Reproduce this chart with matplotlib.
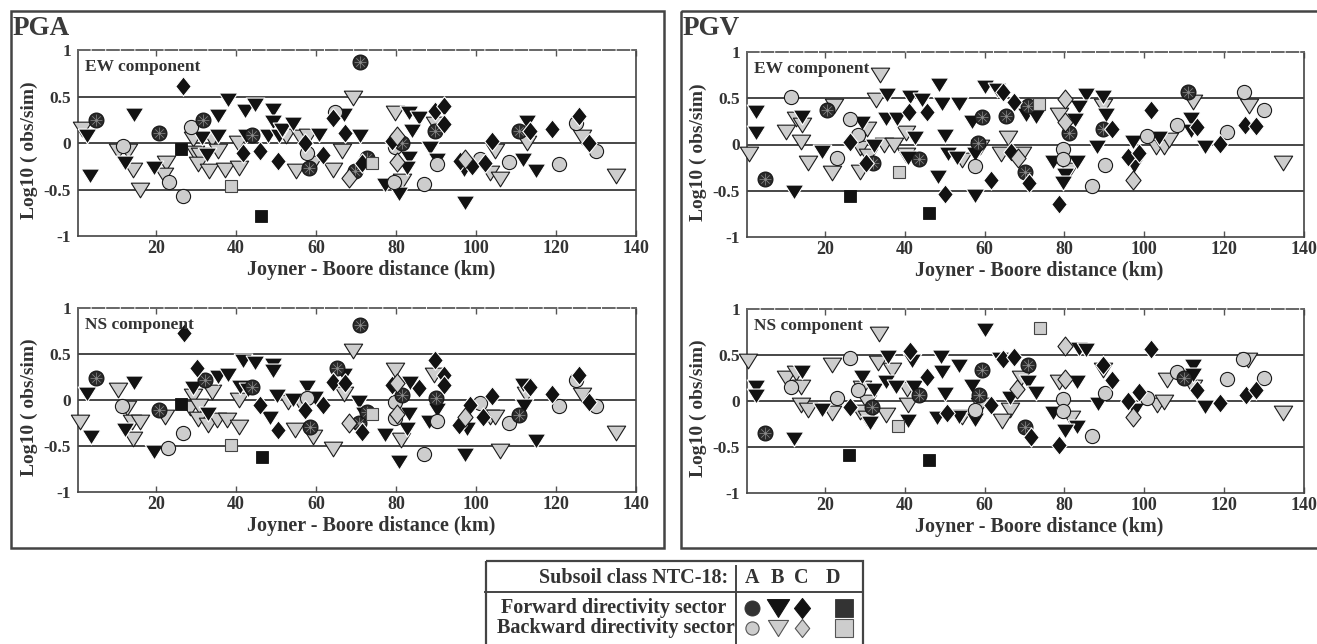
import matplotlib
matplotlib.use("Agg")
import matplotlib.pyplot as plt
from matplotlib.path import Path
from matplotlib.patches import Rectangle

plt.rcParams['font.family'] = ['Liberation Serif', 'DejaVu Serif']
plt.rcParams['font.weight'] = 'bold'

# ---------------------------------------------------------------- data
# Each list holds (Joyner-Boore distance [km], log10(obs/sim)) pairs.
# A = circle, B = triangle, C = diamond, D = square; FWD / BWD directivity.

PGA_EW_A_FWD = [(5.0, 0.25), (20.7, 0.11), (31.8, 0.25), (43.9, 0.09), (58.3, -0.27),
                (70.9, 0.875), (69.8, -0.30), (72.75, -0.16), (81.5, 0.0), (89.8, 0.125),
                (110.7, 0.125)]
PGA_EW_A_BWD = [(11.7, -0.03), (23.3, -0.42), (26.7, -0.57), (28.75, 0.17), (57.7, -0.11),
                (64.8, 0.33), (79.7, -0.04), (79.4, -0.42), (86.9, -0.44), (90.25, -0.225),
                (101, -0.17), (108.2, -0.20), (120.7, -0.23), (125, 0.21), (130, -0.09)]
PGA_EW_B_FWD = [(2.8, 0.08), (3.5, -0.35), (14.6, 0.30), (12.25, -0.21), (19.6, -0.27),
                (31.5, 0.05), (32.8, -0.13), (35.6, 0.29), (35.6, 0.08), (38.1, 0.46),
                (42.25, 0.34), (42.5, 0.07), (44.75, 0.41), (49.3, 0.36), (49.2, 0.23),
                (48.1, 0.08), (50.8, 0.08), (51.4, 0.14), (54.2, 0.20), (60.8, 0.09),
                (66.9, 0.30), (70.9, 0.07), (83.2, 0.32), (85.7, 0.27), (84, 0.13),
                (83.2, -0.16), (82.75, -0.27), (77.3, -0.45), (80.7, -0.55), (88.4, -0.05),
                (90.25, -0.18), (96.9, -0.29), (97.2, -0.65), (111.75, -0.18), (115.1, -0.30),
                (112.75, 0.23)]
PGA_EW_B_BWD = [(1.4, 0.15), (10.6, -0.09), (13.1, -0.09), (14.3, -0.29), (16, -0.50),
                (22.5, -0.21), (22.1, -0.34), (29.2, 0.04), (29.75, -0.11), (31, -0.13),
                (30.6, -0.23), (33.3, -0.30), (33.9, 0.04), (35.4, -0.09), (37.25, -0.29),
                (40.8, -0.27), (40.6, 0.0), (52.4, 0.07), (56, 0.06), (58, 0.07),
                (55, -0.30), (59.3, -0.21), (64.3, -0.29), (69.25, 0.48), (66.5, -0.09),
                (79.8, 0.32), (81.5, -0.41), (89.7, 0.20), (103.4, -0.32), (106, -0.39),
                (104.8, -0.09), (112.75, 0.0), (126.5, 0.06), (135, -0.36)]
PGA_EW_C_FWD = [(26.8, 0.61), (41.8, -0.11), (46, -0.09), (50.6, -0.19), (57.25, 0.0),
                (61.7, -0.13), (64.3, 0.27), (67.3, 0.11), (71.5, -0.21), (79, 0.02),
                (89.8, 0.34), (91.9, 0.40), (91.9, 0.20), (96, -0.19), (99, -0.25),
                (102.3, -0.21), (104, 0.02), (113.6, 0.13), (119, 0.15), (125.7, 0.29),
                (128.2, 0.0)]
PGA_EW_C_BWD = [(68.2, -0.375), (80.25, 0.07), (80.25, -0.20), (97.3, -0.17)]
PGA_EW_D_FWD = [(26.25, -0.06), (46.25, -0.79)]
PGA_EW_D_BWD = [(38.7, -0.46), (74, -0.21)]

PGA_NS_A_FWD = [(5, 0.24), (20.8, -0.11), (32.25, 0.22), (43.9, 0.145), (58.5, -0.29),
                (65.2, 0.35), (70.9, 0.81), (70.7, -0.25), (72.75, -0.13), (81.5, 0.05),
                (90.1, 0.02), (110.7, -0.16)]
PGA_NS_A_BWD = [(11.4, -0.07), (23.1, -0.52), (26.7, -0.36), (57.7, 0.02), (79.7, -0.02),
                (79.7, -0.20), (86.9, -0.59), (90.25, -0.23), (101, -0.03), (108.2, -0.25),
                (120.7, -0.07), (125, 0.22), (130, -0.07)]
PGA_NS_B_FWD = [(2.8, 0.07), (3.7, -0.40), (14.6, 0.18), (12.25, -0.33), (19.5, -0.56),
                (29.2, 0.13), (33.1, -0.15), (35.6, 0.25), (38.1, 0.27), (41, 0.145),
                (41.8, 0.42), (44.75, 0.40), (43, 0.11), (48.5, -0.20), (49.3, 0.38),
                (49.2, 0.31), (50.2, 0.04), (54.2, 0.0), (57.7, 0.145), (59.75, 0.02),
                (66.9, 0.27), (70.7, -0.02), (71.9, -0.15), (83.6, 0.19), (83.2, -0.15),
                (82.75, -0.31), (77.3, -0.38), (80.7, -0.67), (88.2, -0.24), (90.25, -0.11),
                (97.75, -0.31), (97.2, -0.60), (111.9, -0.07), (111.75, 0.16), (115.1, -0.45)]
PGA_NS_B_BWD = [(1.0, -0.24), (10.6, 0.11), (12.8, -0.09), (13.9, -0.24), (14.2, -0.42),
                (16, -0.24), (22.25, -0.18), (29.3, 0.04), (28.5, -0.09), (30.8, -0.07),
                (30.6, -0.21), (33.1, -0.27), (33.9, 0.09), (35.3, -0.22), (37.7, -0.22),
                (40.8, -0.29), (40.8, 0.0), (53, -0.02), (56, -0.02), (54.75, -0.33),
                (59.3, -0.40), (64.3, -0.53), (69.25, 0.53), (66.9, 0.07), (79.8, 0.33),
                (81.3, -0.44), (89.4, 0.27), (103.4, -0.18), (104.8, -0.18), (105.9, -0.55),
                (112.6, 0.07), (126.5, 0.05), (135, -0.36)]
PGA_NS_C_FWD = [(27.1, 0.73), (30.3, 0.35), (46, -0.05), (50.6, -0.33), (57.25, -0.11),
                (61.7, -0.05), (64.3, 0.20), (67.3, 0.18), (71.5, -0.35), (79, 0.16),
                (85.7, 0.13), (89.7, 0.44), (91.9, 0.27), (91.9, 0.16), (95.7, -0.27),
                (98.5, -0.05), (101.75, -0.18), (104, 0.04), (113.6, 0.145), (119, 0.07),
                (125.7, 0.27), (128.2, -0.02)]
PGA_NS_C_BWD = [(68.2, -0.25), (80.25, 0.18), (80.25, -0.15), (97.3, -0.18)]
PGA_NS_D_FWD = [(26.25, -0.04), (46.4, -0.62)]
PGA_NS_D_BWD = [(38.7, -0.49), (74, -0.15)]

PGV_EW_A_FWD = [(4.9, -0.37), (20.6, 0.37), (32, -0.20), (43.5, -0.16), (59.3, 0.30),
                (58.3, 0.02), (65.25, 0.31), (70.8, 0.42), (70, -0.30), (81.1, 0.12),
                (89.6, 0.17), (111, 0.57)]
PGV_EW_A_BWD = [(11.4, 0.51), (23.1, -0.15), (26.4, 0.28), (28.3, 0.10), (57.5, -0.23),
                (79.75, -0.05), (79.75, -0.16), (90.25, -0.22), (86.8, -0.45), (100.8, 0.09),
                (108.1, 0.21), (120.6, 0.13), (125, 0.57), (130, 0.37)]
PGV_EW_B_FWD = [(2.8, 0.35), (2.8, 0.12), (12.25, -0.51), (14.3, 0.30), (19.3, -0.08),
                (29.3, 0.23), (32.25, -0.02), (35.6, 0.54), (35.2, 0.28), (38.1, 0.28),
                (42.5, 0.065), (40.8, -0.15), (41.4, 0.51), (44.3, 0.48), (48.5, 0.64),
                (49.3, 0.44), (48.3, -0.35), (50, 0.09), (50.8, -0.10), (53.5, 0.44),
                (53.1, -0.15), (57.7, -0.56), (56.8, 0.24), (57.5, -0.10), (60, 0.62),
                (63, 0.59), (70.4, 0.32), (72.9, 0.30), (85.4, 0.53), (83.75, 0.41),
                (82.75, 0.26), (77.1, -0.19), (83.1, -0.19), (80.25, -0.33), (79.75, -0.42),
                (89.6, 0.51), (90.4, 0.32), (88.1, -0.025), (97.1, 0.03), (97.5, -0.23),
                (103.6, 0.065), (111.7, 0.28), (111.7, 0.15), (115.25, -0.025)]
PGV_EW_B_BWD = [(1, -0.10), (10.3, 0.14), (12.7, 0.28), (14.2, 0.21), (13.9, 0.03),
                (15.8, -0.20), (22.25, 0.42), (21.8, -0.31), (30.6, 0.17), (28.9, -0.04),
                (30.75, -0.12), (28.9, -0.30), (32.7, 0.48), (33.75, 0.75), (34.75, 0.0),
                (37.25, 0.0), (40.3, 0.12), (40.3, -0.115), (54.3, -0.17), (58.9, -0.025),
                (65.8, 0.065), (64.2, -0.10), (69.4, -0.10), (78.75, 0.32), (81.25, -0.28),
                (89.6, 0.42), (102.9, -0.025), (105, -0.025), (106.25, 0.05), (112.25, 0.46),
                (126.25, 0.42), (134.8, -0.20)]
PGV_EW_C_FWD = [(26.4, 0.03), (30.2, -0.20), (41, 0.35), (45.6, 0.35), (50.2, -0.54),
                (61.7, -0.38), (64.6, 0.57), (67.25, 0.46), (66.7, -0.08), (71.25, -0.42),
                (78.75, -0.64), (91.9, 0.17), (95.8, -0.13), (98.75, -0.09), (101.7, 0.37),
                (113.3, 0.19), (118.9, 0.01), (125.25, 0.21), (127.9, 0.20)]
PGV_EW_C_BWD = [(68.3, -0.15), (80.25, 0.49), (80.25, 0.245), (97.1, -0.385)]
PGV_EW_D_FWD = [(26.25, -0.56), (46, -0.745)]
PGV_EW_D_BWD = [(38.5, -0.30), (73.75, 0.435)]

PGV_NS_A_FWD = [(4.9, -0.35), (31.8, -0.06), (43.7, 0.065), (59.3, 0.335), (58.5, 0.065),
                (70.8, 0.39), (70, -0.28), (110, 0.245)]
PGV_NS_A_BWD = [(11.4, 0.155), (23.1, 0.03), (26.4, 0.47), (28.3, 0.12), (57.5, -0.10),
                (79.75, 0.02), (79.75, -0.11), (86.8, -0.38), (90.25, 0.09), (100.8, 0.03),
                (108.1, 0.31), (120.6, 0.235), (124.75, 0.46), (130, 0.245)]
PGV_NS_B_FWD = [(2.8, 0.155), (2.7, 0.05), (12.25, -0.415), (14.3, 0.32), (19.3, -0.10),
                (29.2, 0.26), (32.25, 0.12), (31.4, -0.24), (35.8, 0.48), (35.2, 0.21),
                (37.7, 0.155), (40.8, -0.22), (42.25, 0.155), (41.8, 0.43), (48.1, -0.19),
                (49, 0.48), (49.3, 0.32), (50.2, 0.08), (53.5, 0.38), (53.5, -0.17),
                (56.8, 0.16), (57.5, -0.205), (60.2, 0.77), (63.9, 0.46), (70.8, 0.21),
                (72.9, 0.09), (66.25, 0.03), (83.6, 0.57), (85.4, 0.55), (83.1, 0.21),
                (77.1, -0.13), (83.1, -0.28), (80.25, -0.33), (88.3, -0.03), (97.75, -0.10),
                (112.25, 0.38), (112.25, 0.28), (115.25, -0.06)]
PGV_NS_B_BWD = [(0.8, 0.43), (10.2, 0.245), (12.7, 0.30), (13.9, 0.155), (13.9, -0.04),
                (15.8, -0.10), (21.8, -0.13), (21.8, 0.39), (29.2, 0.14), (30.6, -0.01),
                (28.9, -0.115), (30.6, -0.19), (33.3, 0.415), (33.5, 0.73), (36.8, 0.335),
                (40.6, 0.135), (40.8, -0.045), (35.2, -0.15), (54.3, -0.17), (58.9, -0.045),
                (69.2, 0.245), (66.25, -0.10), (64.4, -0.22), (78.75, 0.21), (81.7, -0.19),
                (89.6, 0.335), (103.3, -0.045), (105, -0.01), (105.8, 0.23), (112.25, 0.155),
                (126.1, 0.45), (134.8, -0.125)]
PGV_NS_C_FWD = [(26.4, -0.06), (41.4, 0.545), (45.6, 0.26), (50.6, -0.13), (61.7, -0.045),
                (64.6, 0.46), (67.25, 0.48), (71.7, -0.39), (78.75, -0.475), (89.6, 0.39),
                (91.9, 0.23), (95.8, 0.0), (98.75, 0.10), (101.8, 0.57), (113.3, 0.12),
                (118.9, -0.025), (125.4, 0.065), (127.9, 0.125)]
PGV_NS_C_BWD = [(68.1, 0.135), (80.25, 0.60), (80.25, 0.235), (97.1, -0.17)]
PGV_NS_D_FWD = [(26, -0.585), (46, -0.64)]
PGV_NS_D_BWD = [(38.3, -0.27), (74, 0.79)]

X_TICKS = [20, 40, 60, 80, 100, 120, 140]
Y_TICKS = [-1, -0.5, 0, 0.5, 1]
Y_TICK_LABELS = ['-1', '-0.5', '0', '0.5', '1']
SOIL_CLASSES = ['A', 'B', 'C', 'D']

# ---------------------------------------------------------------- styles
TXT = '#333333'
DARK = '#121212'
DARK_A = '#2a2a2a'
LIGHT = '#cdcdcd'


def closed(verts):
    verts = list(verts) + [verts[0]]
    codes = [Path.MOVETO] + [Path.LINETO] * (len(verts) - 2) + [Path.CLOSEPOLY]
    return Path(verts, codes)


# slightly squat down-pointing triangle and slightly tall diamond
tri_down = closed([(-1, 0.8), (1, 0.8), (0, -0.8)])
diamond = closed([(0, 1), (0.8, 0), (0, -1), (-0.8, 0)])

spoke_verts, spoke_codes = [], []
for dx, dy in [(1, 0), (0.71, 0.71), (0, 1), (-0.71, 0.71)]:
    spoke_verts += [(-dx, -dy), (dx, dy)]
    spoke_codes += [Path.MOVETO, Path.LINETO]
spokes = Path(spoke_verts, spoke_codes)

STYLE = {
    'A_FWD': dict(marker='o', ms=10.8, mfc=DARK_A, mec='#111111', mew=0.7),
    'A_BWD': dict(marker='o', ms=10.2, mfc=LIGHT, mec='#1a1a1a', mew=0.8),
    'B_FWD': dict(marker=tri_down, ms=13.4, mfc=DARK, mec='white', mew=0.8),
    'B_BWD': dict(marker=tri_down, ms=13.2, mfc=LIGHT, mec='#1a1a1a', mew=0.8),
    'C_FWD': dict(marker=diamond, ms=14.0, mfc=DARK, mec='white', mew=0.8),
    'C_BWD': dict(marker=diamond, ms=13.6, mfc=LIGHT, mec='#1a1a1a', mew=0.8),
    'D_FWD': dict(marker='s', ms=8.4, mfc=DARK, mec=DARK, mew=0.6),
    'D_BWD': dict(marker='s', ms=8.4, mfc=LIGHT, mec='#444444', mew=0.8),
}

W, H = 1317, 644
fig = plt.figure(figsize=(W / 100, H / 100), dpi=100)

# full-figure pixel canvas for frames, titles and the symbol table
bg = fig.add_axes([0, 0, 1, 1])
bg.set_xlim(0, W)
bg.set_ylim(H, 0)
bg.axis('off')


def frac(left, top, right, bottom):
    return [left / W, 1 - bottom / H, (right - left) / W, (bottom - top) / H]


def draw_points(ax, pts, key):
    xs = [p[0] for p in pts]
    ys = [p[1] for p in pts]
    st = STYLE[key]
    ax.plot(xs, ys, linestyle='none', clip_on=False, zorder=3, **st)
    if key == 'A_FWD':
        ax.plot(xs, ys, linestyle='none', marker=spokes, ms=8.5, mfc='none',
                mec='#8c8c8c', mew=0.5, clip_on=False, zorder=3)


def panel(rect, series, comp):
    ax = fig.add_axes(frac(*rect))
    ax.set_xlim(0.5, 140)
    ax.set_ylim(-1, 1)
    for yv in (-0.5, 0, 0.5):
        ax.axhline(yv, color='#151515', lw=1.1, zorder=1)
    for pts, key in series:
        draw_points(ax, pts, key)
    ax.set_xticks(X_TICKS)
    ax.set_xticklabels([str(t) for t in X_TICKS])
    ax.set_yticks(Y_TICKS)
    ax.set_yticklabels(Y_TICK_LABELS)
    ax.tick_params(axis='x', direction='in', top=True, length=4, width=1.0,
                   color='#555555', labelsize=13, labelcolor=TXT, pad=3)
    ax.tick_params(axis='y', direction='in', length=0, labelsize=12.5,
                   labelcolor=TXT, pad=5)
    for lab in ax.get_xticklabels() + ax.get_yticklabels():
        lab.set_fontweight('bold')
    for side in ('left', 'right', 'bottom'):
        ax.spines[side].set_color('#444444')
        ax.spines[side].set_linewidth(1.2)
    ax.spines['top'].set_color('#666666')
    ax.spines['top'].set_linewidth(1.4)
    ax.spines['top'].set_linestyle((0, (6, 1.5)))
    ax.text(0.0125, 0.885, comp, transform=ax.transAxes, fontsize=12.5,
            fontweight='bold', color=TXT, va='baseline', ha='left')
    ax.text(-0.088, 0.46, 'Log10 ( obs/sim)', transform=ax.transAxes, rotation=90,
            fontsize=14, fontweight='bold', color=TXT, ha='center', va='center')
    ax.text(0.525, -0.185, 'Joyner - Boore distance (km)', transform=ax.transAxes,
            fontsize=14.5, fontweight='bold', color=TXT, ha='center', va='center')
    return ax


def series_of(a_f, a_b, b_f, b_b, c_f, c_b, d_f, d_b):
    return [(b_b, 'B_BWD'), (b_f, 'B_FWD'), (a_b, 'A_BWD'), (a_f, 'A_FWD'),
            (c_f, 'C_FWD'), (c_b, 'C_BWD'), (d_f, 'D_FWD'), (d_b, 'D_BWD')]


panel((78, 50, 636, 236),
      series_of(PGA_EW_A_FWD, PGA_EW_A_BWD, PGA_EW_B_FWD, PGA_EW_B_BWD,
                PGA_EW_C_FWD, PGA_EW_C_BWD, PGA_EW_D_FWD, PGA_EW_D_BWD), 'EW component')
panel((78, 308, 636, 492),
      series_of(PGA_NS_A_FWD, PGA_NS_A_BWD, PGA_NS_B_FWD, PGA_NS_B_BWD,
                PGA_NS_C_FWD, PGA_NS_C_BWD, PGA_NS_D_FWD, PGA_NS_D_BWD), 'NS component')
panel((747, 52, 1304, 237),
      series_of(PGV_EW_A_FWD, PGV_EW_A_BWD, PGV_EW_B_FWD, PGV_EW_B_BWD,
                PGV_EW_C_FWD, PGV_EW_C_BWD, PGV_EW_D_FWD, PGV_EW_D_BWD), 'EW component')
panel((747, 309, 1304, 493),
      series_of(PGV_NS_A_FWD, PGV_NS_A_BWD, PGV_NS_B_FWD, PGV_NS_B_BWD,
                PGV_NS_C_FWD, PGV_NS_C_BWD, PGV_NS_D_FWD, PGV_NS_D_BWD), 'NS component')

# panel frames and titles
bg.add_patch(Rectangle((10.5, 10.5), 653, 537, fill=False, ec='#444444', lw=1.8))
bg.add_patch(Rectangle((680.5, 10.5), 650, 537, fill=False, ec='#444444', lw=1.8))
bg.text(13, 35, 'PGA', fontsize=19.5, fontweight='bold', color='#3a3a3a', va='baseline')
bg.text(683, 35, 'PGV', fontsize=19.5, fontweight='bold', color='#3a3a3a', va='baseline')

# symbol table
bg.add_patch(Rectangle((485.5, 560.5), 377, 100, fill=False, ec='#444444', lw=1.6,
                       clip_on=True))
bg.plot([485, 862], [592, 592], color='#444444', lw=1.4)
bg.plot([736, 736], [566, 660], color='#444444', lw=1.4)
bg.text(728, 578, 'Subsoil class NTC-18:', fontsize=14.5, fontweight='bold', color=TXT,
        ha='right', va='center')
col_x = [752, 777, 801, 833]
for cx, letter in zip(col_x, SOIL_CLASSES):
    bg.text(cx, 578, letter, fontsize=14.5, fontweight='bold', color=TXT,
            ha='center', va='center')
bg.text(726, 608, 'Forward directivity sector', fontsize=14.5, fontweight='bold',
        color=TXT, ha='right', va='center')
bg.text(735, 628, 'Backward directivity sector', fontsize=14.5, fontweight='bold',
        color=TXT, ha='right', va='center')

sym_x = [752, 778, 802, 844]
fwd_keys = ['A_FWD', 'B_FWD', 'C_FWD', 'D_FWD']
bwd_keys = ['A_BWD', 'B_BWD', 'C_BWD', 'D_BWD']
legend_ms_fwd = {'A': 10.8, 'B': 16.0, 'C': 14.4, 'D': 12.8}
legend_ms_bwd = {'A': 9.5, 'B': 14.5, 'C': 13.0, 'D': 12.8}
for sx, kf, kb, letter in zip(sym_x, fwd_keys, bwd_keys, SOIL_CLASSES):
    sf = dict(STYLE[kf])
    sf['ms'] = legend_ms_fwd[letter]
    sf['mfc'] = '#333333' if letter in ('A', 'D') else DARK
    sf['mec'] = sf['mfc']
    bg.plot([sx], [608], linestyle='none', **sf)
    sb = dict(STYLE[kb])
    sb['ms'] = legend_ms_bwd[letter]
    sb['mec'] = '#555555'
    sb['mew'] = 0.8
    bg.plot([sx], [628], linestyle='none', **sb)

fig.savefig('out.png', dpi=100)
